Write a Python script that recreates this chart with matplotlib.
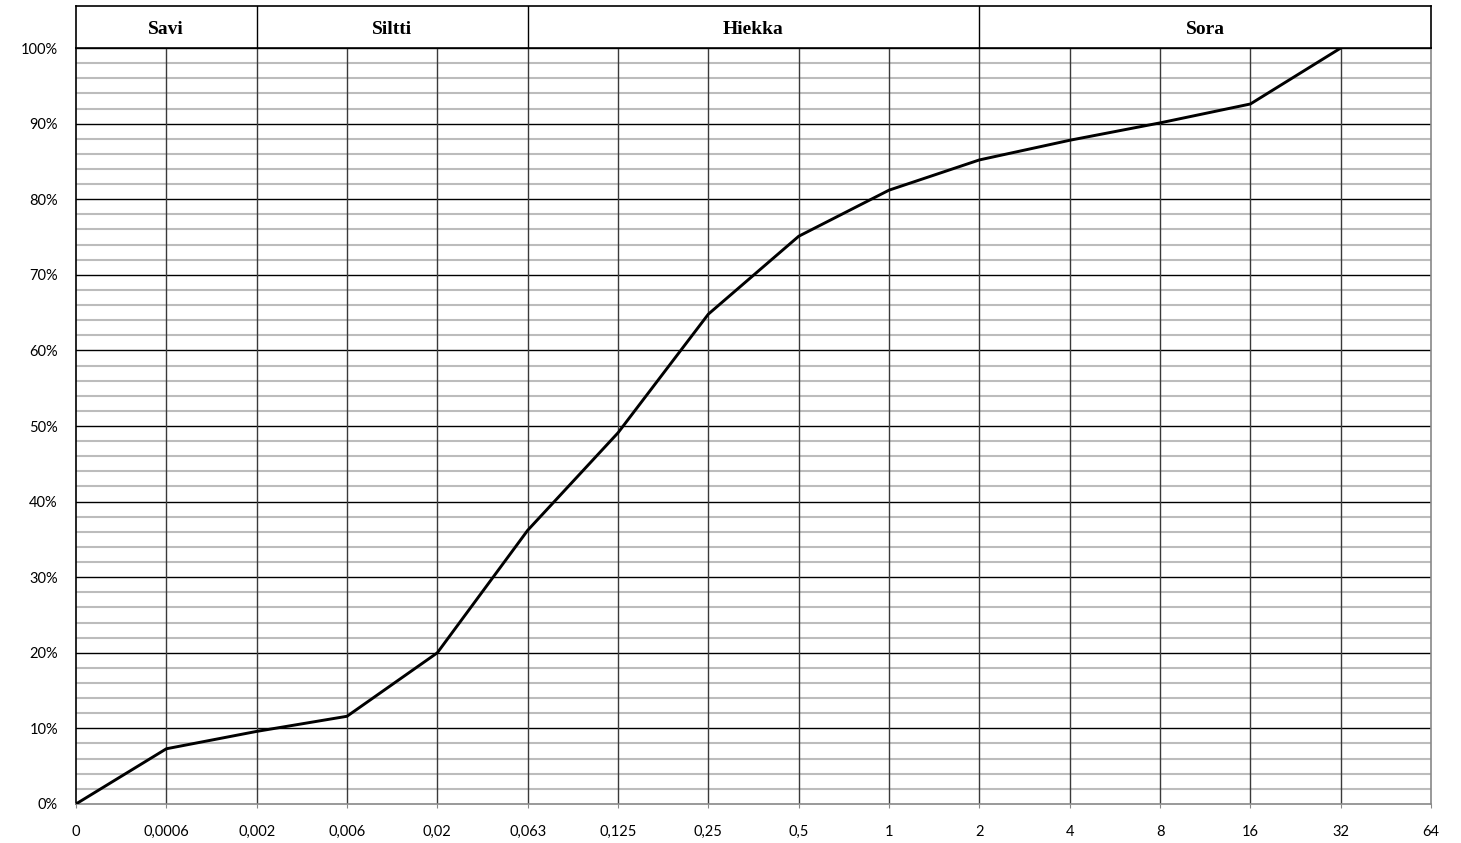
import numpy as np
import matplotlib.pyplot as plt

# Grain size sieve labels (mm) and cumulative passing (%)
sizes = ['0', '0,0006', '0,002', '0,006', '0,02', '0,063', '0,125', '0,25',
         '0,5', '1', '2', '4', '8', '16', '32', '64']
passing = [0, 7.3, 9.6, 11.6, 20.0, 36.2, 49.1, 64.8, 75.1, 81.2, 85.2,
           87.8, 90.1, 92.6, 100.0]

# Soil classes and the sieve index ranges they cover
classes = ['Savi', 'Siltti', 'Hiekka', 'Sora']
class_edges = [0, 2, 5, 10, 15]

fig = plt.figure(figsize=(14.61, 8.43), dpi=100)
ax = fig.add_axes([0.052, 0.0463, 0.9275, 0.8967])

x = np.arange(len(sizes))

# grid: minor every 2 %, major every 10 %
for y in range(0, 101, 2):
    if y % 10 == 0:
        continue
    ax.axhline(y, color='#bcbcbc', lw=1.5, zorder=1)
for y in range(10, 101, 10):
    ax.axhline(y, color='black', lw=1.0, zorder=2)
for xi in x[1:-1]:
    ax.axvline(xi, color='#3a3a3a', lw=1.0, zorder=2)

ax.plot(x[:len(passing)], passing, color='black', lw=2.1, zorder=3,
        solid_joinstyle='miter')

ax.set_xlim(0, len(sizes) - 1)
ax.set_ylim(0, 100)
ax.set_xticks(x)
ax.set_xticklabels(sizes)
ax.set_yticks(range(0, 101, 10))
ax.set_yticklabels([f'{v}%' for v in range(0, 101, 10)])
ax.tick_params(axis='x', length=3, color='#888888', pad=12, labelsize=10.5)
ax.tick_params(axis='y', length=0, pad=13, labelsize=10.5)
for lab in ax.get_xticklabels() + ax.get_yticklabels():
    lab.set_fontfamily('Lato')

ax.spines['left'].set_color('black')
ax.spines['top'].set_color('black')
ax.spines['bottom'].set_color('#888888')
ax.spines['right'].set_color('#888888')
for s in ax.spines.values():
    s.set_linewidth(1.2)

# header band with soil class names
hx = fig.add_axes([0.052, 0.943, 0.9275, 0.0499])
hx.set_xlim(0, len(sizes) - 1)
hx.set_ylim(0, 1)
hx.set_xticks([])
hx.set_yticks([])
for s in hx.spines.values():
    s.set_color('black')
    s.set_linewidth(1.2)
for name, a, b in zip(classes, class_edges[:-1], class_edges[1:]):
    if a > 0:
        hx.axvline(a, color='black', lw=1.0)
    hx.text((a + b) / 2, 0.45, name, ha='center', va='center',
            fontsize=14, fontweight='bold', family='Liberation Serif')

fig.savefig('out.png', dpi=100)
